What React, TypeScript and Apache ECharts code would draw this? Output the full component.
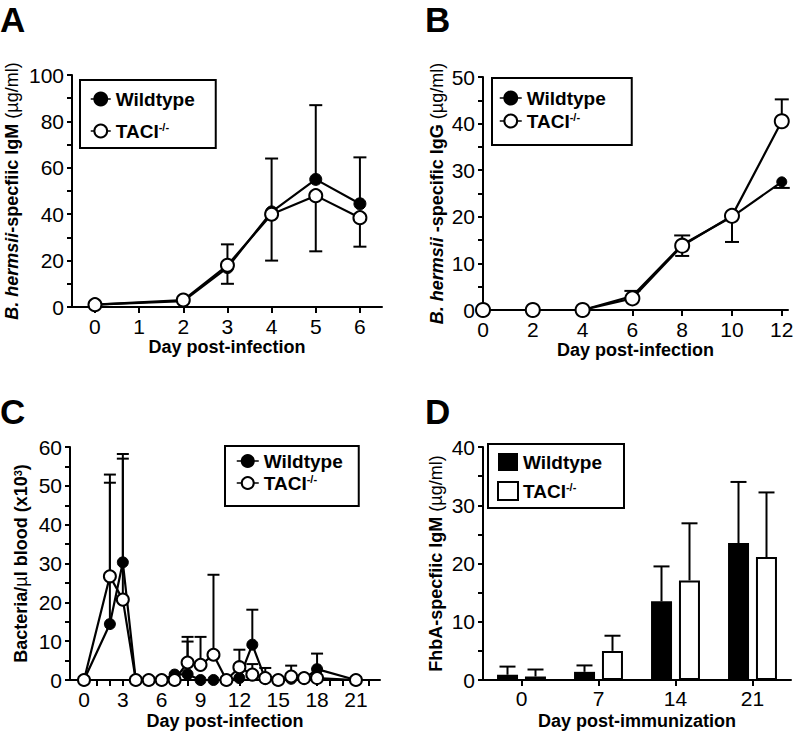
import React, { useEffect, useRef } from 'react';
import * as echarts from 'echarts';

const FONT = '"Liberation Sans", Arial, Helvetica, sans-serif';

// ---- Panel A: B. hermsii-specific IgM ----
const daysA = [0, 2, 3, 4, 5, 6];
const wildtypeA = [1, 2.5, 17, 41, 55, 44.5];
const taciA = [1, 3, 18, 40, 48, 38.5];
const errEndWildtypeA = [[3, 27], [4, 64], [5, 87], [6, 64.5]];
const errEndTaciA = [[3, 10], [4, 20], [5, 24], [6, 26]];
const tickDaysA = [0, 1, 2, 3, 4, 5, 6];

// ---- Panel B: B. hermsii-specific IgG ----
const daysB = [0, 2, 4, 6, 8, 10, 12];
const wildtypeB = [0, 0, 0, 3, 14, 20, 27.5];
const taciB = [0, 0, 0, 2.5, 13.8, 20.2, 40.5];
const errEndWildtypeB = [[6, 4.1], [8, 16], [12, 26.2]];
const errEndTaciB = [[8, 11.6], [10, 14.6], [12, 45.2]];
const tickDaysB = [0, 2, 4, 6, 8, 10, 12];

// ---- Panel C: Bacteria per ul blood ----
const daysC = [0, 2, 3, 4, 5, 6, 7, 8, 9, 10, 11, 12, 13, 14, 15, 16, 17, 18, 21];
const wildtypeC = [0, 14.4, 30.3, 0, 0, 0, 1.4, 1.5, 0, 0, 0, 0.5, 9.1, 0.3, 0, 0.3, 0.3, 2.8, 0];
const taciC = [0, 26.7, 20.7, 0, 0, 0, 0, 4.5, 3.9, 6.5, 0, 3.3, 1.4, 0.5, 0, 0.9, 0.5, 0.5, 0];
const errEndWildtypeC = [[2, 50.8], [3, 58.2], [8, 9.9], [13, 18.1], [14, 3.1], [18, 6.8]];
const errEndTaciC = [[2, 52.9], [3, 57.0], [8, 11.1], [9, 11.1], [10, 27.1], [12, 7.8], [13, 4.1], [16, 3.7]];
const labelDaysC = [0, 3, 6, 9, 12, 15, 18, 21];
const tickDaysC = [0, 1, 2, 3, 6, 8, 9, 12, 15, 18, 19, 20, 21, 22];

// ---- Panel D: FhbA-specific IgM ----
const daysD = ['0', '7', '14', '21'];
const wildtypeD = [0.9, 1.4, 13.5, 23.5];
const taciD = [0.6, 5.0, 17.1, 21.1];
const errEndWildtypeD = [2.3, 2.5, 19.5, 34.0];
const errEndTaciD = [1.8, 7.6, 26.9, 32.2];

const errData = (days: number[], vals: number[], ends: number[][]) =>
  ends.map(([d, e]) => [d, vals[days.indexOf(d)], e]);

const pairs = (days: number[], vals: number[]) => days.map((d, i) => [d, vals[i]]);

const nameStyle: any = {
  color: '#000',
  fontFamily: FONT,
  fontSize: 18,
  fontWeight: 'bold',
  lineHeight: 18,
  rich: {
    i: { fontFamily: FONT, fontSize: 18, fontWeight: 'bold', fontStyle: 'italic', lineHeight: 18, color: '#000' },
    l: { fontFamily: FONT, fontSize: 18, fontWeight: 'normal', lineHeight: 18, color: '#000' },
    sup: { fontFamily: FONT, fontSize: 11, fontWeight: 'bold', lineHeight: 9, verticalAlign: 'top', color: '#000' },
  },
};

const axisLine = { show: true, onZero: false, lineStyle: { color: '#000', width: 2 } };
const tickStyle = (len: number) => ({ show: true, inside: false, length: len, lineStyle: { color: '#000', width: 2 } });
const labelStyle = (margin: number) => ({ color: '#000', fontSize: 21, fontFamily: FONT, margin });

function yAxis(gridIndex: number, max: number, interval: number, name: string, nameGap: number) {
  return {
    type: 'value',
    gridIndex,
    min: 0,
    max,
    interval,
    axisLine,
    axisTick: tickStyle(5),
    minorTick: { show: true, splitNumber: 2, length: 5, lineStyle: { color: '#000', width: 2 } },
    splitLine: { show: false },
    minorSplitLine: { show: false },
    axisLabel: labelStyle(8),
    name,
    nameLocation: 'middle',
    nameRotate: 90,
    nameGap,
    nameTextStyle: nameStyle,
  };
}

function xValueAxis(gridIndex: number, min: number, max: number, labels: number[], ticks: number[], name: string, nameGap: number) {
  return {
    type: 'value',
    gridIndex,
    min,
    max,
    axisLine,
    axisTick: { ...tickStyle(6), customValues: ticks },
    axisLabel: { ...labelStyle(9), customValues: labels },
    splitLine: { show: false },
    name,
    nameLocation: 'middle',
    nameGap,
    nameTextStyle: nameStyle,
  };
}

const errorRender = (capHalf: number, offset: number) => (params: any, api: any) => {
  const x = api.value(0);
  const v = api.value(1);
  const e = api.value(2);
  const p0 = api.coord([x, v]);
  const p1 = api.coord([x, e]);
  const px = p0[0] + offset;
  const st = { stroke: '#000', lineWidth: 2 };
  return {
    type: 'group',
    children: [
      { type: 'line', shape: { x1: px, y1: p0[1], x2: px, y2: p1[1] }, style: st },
      { type: 'line', shape: { x1: px - capHalf, y1: p1[1], x2: px + capHalf, y2: p1[1] }, style: st },
    ],
  };
};

function errSeries(idx: number, data: any[], capHalf: number, offset = 0) {
  return {
    type: 'custom',
    xAxisIndex: idx,
    yAxisIndex: idx,
    data,
    z: 1,
    silent: true,
    clip: false,
    encode: { x: 0, y: 1 },
    renderItem: errorRender(capHalf, offset),
  };
}

function lineSeries(idx: number, name: string, data: any[], filled: boolean, size: number) {
  return {
    type: 'line',
    name,
    xAxisIndex: idx,
    yAxisIndex: idx,
    data,
    symbol: 'circle',
    symbolSize: size,
    showSymbol: true,
    showAllSymbol: true,
    clip: false,
    z: filled ? 3 : 4,
    lineStyle: { color: '#000', width: 2.2 },
    itemStyle: filled
      ? { color: '#000', borderColor: '#000', borderWidth: 1 }
      : { color: '#fff', borderColor: '#000', borderWidth: 2 },
    emphasis: { disabled: true },
  };
}

const legendFormatter = (name: string) => (name.endsWith('TACI') ? 'TACI{sup|-/-}' : 'Wildtype');

function legend(names: any[], left: number, top: number, padding: number[], itemGap: number, itemWidth: number, itemHeight: number) {
  return {
    data: names,
    orient: 'vertical',
    left,
    top,
    padding,
    itemGap,
    itemWidth,
    itemHeight,
    borderColor: '#000',
    borderWidth: 2,
    backgroundColor: '#fff',
    selectedMode: false,
    formatter: legendFormatter,
    lineStyle: { width: 1.5 },
    textStyle: {
      color: '#000',
      fontFamily: FONT,
      fontSize: 19,
      fontWeight: 'bold',
      lineHeight: 20,
      rich: {
        sup: { fontFamily: FONT, fontSize: 11, fontWeight: 'bold', lineHeight: 10, verticalAlign: 'top', color: '#000' },
      },
    },
  };
}

const panelLetter = (text: string, x: number, y: number) => ({
  type: 'text',
  x,
  y,
  style: { text, fontSize: 35, fontWeight: 'bold', fontFamily: FONT, fill: '#000', verticalAlign: 'middle', align: 'left' },
});

export default function App() {
  const ref = useRef<HTMLDivElement>(null);
  useEffect(() => {
    if (!ref.current) return;
    const chart = echarts.init(ref.current, undefined, { renderer: 'svg' });
    const option: any = {
      animation: false,
      backgroundColor: '#fff',
      grid: [
        { left: 72, top: 75, width: 310, height: 232, outerBoundsMode: 'none' },
        { left: 483, top: 77, width: 305, height: 233, outerBoundsMode: 'none' },
        { left: 70, top: 447, width: 310, height: 233, outerBoundsMode: 'none' },
        { left: 483, top: 447, width: 308, height: 233, outerBoundsMode: 'none' },
      ],
      xAxis: [
        xValueAxis(0, -0.52, 6.5, tickDaysA, tickDaysA, 'Day post-infection', 31),
        xValueAxis(1, 0, 12.25, tickDaysB, tickDaysB, 'Day post-infection', 27),
        xValueAxis(2, -1.08, 22.86, labelDaysC, tickDaysC, 'Day post-infection', 32),
        {
          type: 'category',
          gridIndex: 3,
          data: daysD,
          boundaryGap: true,
          axisLine,
          axisTick: { ...tickStyle(6), alignWithLabel: true },
          axisLabel: labelStyle(8),
          splitLine: { show: false },
          name: 'Day post-immunization',
          nameLocation: 'middle',
          nameGap: 32,
          nameTextStyle: nameStyle,
        },
      ],
      yAxis: [
        yAxis(0, 100, 20, '{i|B. hermsii}-specfiic IgM {l|(µg/ml)}', 51),
        yAxis(1, 50, 10, '{i|B. hermsii} -specific IgG {l|(µg/ml)}', 37),
        yAxis(2, 60, 10, 'Bacteria/{l|µ}l blood (x10{sup|3})', 40),
        yAxis(3, 40, 10, 'FhbA-specfiic IgM {l|(µg/ml)}', 38),
      ],
      legend: [
        legend(['A-Wildtype', 'A-TACI'], 80, 80, [9, 21, 7, 10], 12, 20, 16),
        legend(['B-Wildtype', 'B-TACI'], 492, 78, [10, 26, 14, 7], 3, 22, 16),
        legend(['C-Wildtype', 'C-TACI'], 225, 446, [5, 16, 13, 11], 2, 22, 15),
        legend(
          [
            { name: 'D-Wildtype', icon: 'rect' },
            { name: 'D-TACI', icon: 'rect' },
          ],
          488,
          444,
          [8, 22, 7, 9],
          9,
          20,
          18
        ),
      ],
      graphic: [
        panelLetter('A', 0, 19),
        panelLetter('B', 425, 19),
        panelLetter('C', 0, 411),
        panelLetter('D', 425, 411),
      ],
      series: [
        // Panel A
        errSeries(0, errData(daysA, wildtypeA, errEndWildtypeA), 6.5),
        errSeries(0, errData(daysA, taciA, errEndTaciA), 6.5),
        lineSeries(0, 'A-Wildtype', pairs(daysA, wildtypeA), true, 12),
        lineSeries(0, 'A-TACI', pairs(daysA, taciA), false, 13),
        // Panel B
        errSeries(1, errData(daysB, wildtypeB, errEndWildtypeB), 8),
        errSeries(1, errData(daysB, taciB, errEndTaciB), 7),
        lineSeries(1, 'B-Wildtype', pairs(daysB, wildtypeB), true, 10),
        lineSeries(1, 'B-TACI', pairs(daysB, taciB), false, 14),
        // Panel C
        errSeries(2, errData(daysC, wildtypeC, errEndWildtypeC), 6),
        errSeries(2, errData(daysC, taciC, errEndTaciC), 6),
        lineSeries(2, 'C-Wildtype', pairs(daysC, wildtypeC), true, 11),
        lineSeries(2, 'C-TACI', pairs(daysC, taciC), false, 12),
        // Panel D
        {
          type: 'bar',
          name: 'D-Wildtype',
          xAxisIndex: 3,
          yAxisIndex: 3,
          data: wildtypeD,
          barWidth: 21,
          barGap: '33%',
          itemStyle: { color: '#000', borderColor: '#000', borderWidth: 0 },
          emphasis: { disabled: true },
          z: 2,
        },
        {
          type: 'bar',
          name: 'D-TACI',
          xAxisIndex: 3,
          yAxisIndex: 3,
          data: taciD,
          barWidth: 21,
          barGap: '33%',
          itemStyle: { color: '#fff', borderColor: '#000', borderWidth: 2 },
          emphasis: { disabled: true },
          z: 2,
        },
        { ...errSeries(3, wildtypeD.map((v, i) => [i, v, errEndWildtypeD[i]]), 8, -14), z: 3 },
        { ...errSeries(3, taciD.map((v, i) => [i, v, errEndTaciD[i]]), 8, 14), z: 3 },
      ],
    };
    chart.setOption(option);
    return () => chart.dispose();
  }, []);
  return <div ref={ref} style={{ position: 'fixed', left: 0, top: 0, width: 800, height: 739, background: '#fff' }} />;
}
